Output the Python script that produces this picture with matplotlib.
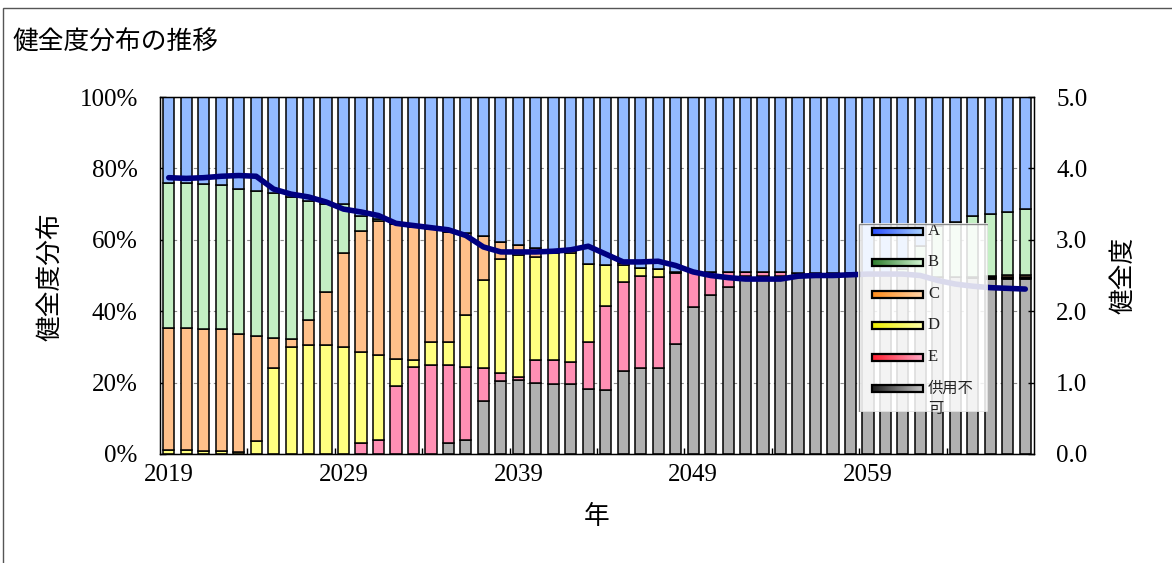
import matplotlib
matplotlib.use("Agg")
import matplotlib.pyplot as plt
import numpy as np
from matplotlib.patches import Rectangle
from matplotlib.ticker import PercentFormatter, FormatStrFormatter, FixedLocator
from matplotlib.colors import LinearSegmentedColormap

W, H = 1172, 563
SERIF = ['Liberation Serif', 'DejaVu Serif']
JP = ['Noto Sans CJK JP', 'DejaVu Sans']

# data (percent of stock by grade, per year)
years = list(range(2019, 2069))
unusable = [0, 0, 0, 0, 0, 0, 0, 0, 0, 0,
            0, 0, 0, 0, 0, 0, 3.0, 4.0, 14.8, 20.4,
            20.7, 19.8, 19.6, 19.6, 18.2, 18.0, 23.2, 24.1, 24.1, 30.8,
            41.1, 44.4, 46.7, 49.8, 49.8, 49.8, 50.7, 50.7, 50.7, 50.7,
            50.7, 50.5, 50.3, 50.0, 49.5, 49.5, 49.3, 49.1, 49.1, 49.1]
grade_e = [0, 0, 0, 0, 0, 0, 0, 0, 0, 0,
           0, 3.0, 4.0, 19.0, 24.5, 24.8, 21.8, 20.5, 9.2, 2.2,
           1.0, 6.4, 6.8, 6.1, 13.1, 23.4, 24.9, 25.8, 25.4, 19.9,
           9.9, 6.6, 4.4, 1.3, 1.3, 1.3, 0, 0, 0, 0,
           0, 0, 0, 0, 0, 0, 0, 0.3, 0.3, 0.3]
grade_d = [1.0, 1.0, 0.8, 0.8, 0.5, 3.7, 24.1, 29.9, 30.4, 30.4,
           30.1, 25.5, 23.6, 7.6, 1.9, 6.5, 6.5, 14.3, 24.6, 32.1,
           34.1, 29.0, 29.8, 30.5, 21.9, 11.6, 4.9, 2.2, 2.2, 0.4,
           0, 0, 0, 0, 0, 0, 0, 0, 0, 0,
           0, 0, 0, 0, 0, 0, 0, 0.3, 0.3, 0.3]
grade_c = [34.3, 34.4, 34.2, 34.1, 33.1, 29.3, 8.4, 2.3, 7.2, 15.0,
           26.3, 33.9, 37.6, 37.9, 37.2, 31.8, 31.0, 23.2, 12.4, 4.6,
           2.7, 2.5, 0.8, 0.8, 0, 0, 0.6, 0, 0, 0,
           0, 0, 0, 0, 0, 0, 0, 0, 0, 0,
           0, 0, 0, 0, 0, 0, 0.3, 0.3, 0.4, 0.4]
grade_b = [40.6, 40.5, 40.5, 40.4, 40.7, 40.6, 40.6, 39.8, 33.4, 24.5,
           13.7, 4.2, 0.7, 0, 0, 0, 0, 0, 0, 0,
           0, 0, 0, 0, 0, 0, 0, 0, 0, 0,
           0, 0, 0, 0, 0, 0, 0, 0, 0, 0,
           0, 0, 1.5, 8.4, 14.5, 15.6, 17.2, 17.3, 17.7, 18.4]
grade_a = [24.1, 24.1, 24.5, 24.7, 25.7, 26.4, 26.9, 28.0, 29.0, 30.1,
           29.9, 33.4, 34.1, 35.5, 36.4, 36.9, 37.7, 38.0, 39.0, 40.7,
           41.5, 42.3, 43.0, 43.0, 46.8, 47.0, 46.4, 47.9, 48.3, 48.9,
           49.0, 49.0, 48.9, 48.9, 48.9, 48.9, 49.3, 49.3, 49.3, 49.3,
           49.3, 49.5, 48.2, 41.6, 36.0, 34.9, 33.2, 32.7, 32.2, 31.5]
health = [3.87, 3.86, 3.87, 3.89, 3.90, 3.89, 3.71, 3.64, 3.60, 3.53,
          3.43, 3.39, 3.34, 3.23, 3.20, 3.17, 3.14, 3.06, 2.90, 2.83,
          2.83, 2.83, 2.84, 2.86, 2.91, 2.80, 2.69, 2.69, 2.70, 2.64,
          2.55, 2.50, 2.47, 2.45, 2.45, 2.45, 2.49, 2.50, 2.50, 2.51,
          2.52, 2.52, 2.52, 2.50, 2.43, 2.38, 2.35, 2.33, 2.32, 2.31]

labels = ['A', 'B', 'C', 'D', 'E', '供用不可']
bar_colors = ['#93baff', '#c4efc4', '#ffc08a', '#ffff80', '#ff8fb4', '#b0b0b0']
grad = [('#2a50ff', '#a8d0ff'), ('#2e7d2e', '#d2f5d2'), ('#ff8c1a', '#ffd2a6'),
        ('#eeee00', '#ffffa8'), ('#ff1f30', '#ffa6c4'), ('#1e1e1e', '#c4c4c4')]


def fx(px):
    return px / W


def fy(py):
    return 1 - py / H


fig = plt.figure(figsize=(W / 100, H / 100), dpi=100)
fig.patch.set_facecolor('white')

# chart area border
fig.add_artist(Rectangle((fx(3), fy(H + 20)), 2, fy(8) - fy(H + 20),
                         transform=fig.transFigure, fill=False,
                         edgecolor='#555555', lw=1))

ax = fig.add_axes([fx(160), fy(454), fx(1034) - fx(160), fy(97) - fy(454)])
x = np.arange(len(years))
stack = [unusable, grade_e, grade_d, grade_c, grade_b, grade_a]
order_colors = bar_colors[::-1]
bottom = np.zeros(len(years))
for vals, col in zip(stack, order_colors):
    ax.bar(x, vals, bottom=bottom, width=0.64, color=col,
           edgecolor='black', linewidth=1.1, zorder=2)
    bottom = bottom + np.array(vals)

ax.set_xlim(-0.5, len(years) - 0.5)
ax.set_ylim(0, 100)
ax.set_axisbelow(True)
ax.yaxis.grid(True, color='#8c8c8c', linestyle=(0, (3, 3)), linewidth=0.8)
ax.set_yticks([0, 20, 40, 60, 80, 100])
ax.yaxis.set_major_formatter(PercentFormatter(100, decimals=0))
ax.set_xticks(x[::10])
ax.set_xticklabels([str(y) for y in years[::10]])
ax.xaxis.set_minor_locator(FixedLocator(np.arange(4.5, len(years) - 1, 5)))
ax.tick_params(axis='x', which='major', length=0, pad=7, labelsize=18)
ax.tick_params(axis='x', which='minor', direction='in', length=4, width=1)
ax.tick_params(axis='y', direction='in', length=4, width=1, pad=16, labelsize=18)
for lab in ax.get_xticklabels() + ax.get_yticklabels():
    lab.set_fontfamily(SERIF)
for s in ax.spines.values():
    s.set_color('black')
    s.set_linewidth(1)

ax2 = ax.twinx()
ax2.plot(x, health, color='#000080', lw=4, solid_joinstyle='round',
         solid_capstyle='round', zorder=3)
ax2.set_ylim(0, 5)
ax2.set_yticks([0, 1, 2, 3, 4, 5])
ax2.yaxis.set_major_formatter(FormatStrFormatter('%.1f'))
ax2.tick_params(axis='y', direction='in', length=4, width=1, pad=16, labelsize=18)
for lab in ax2.get_yticklabels():
    lab.set_fontfamily(SERIF)

# texts
fig.text(fx(12), fy(43), '健全度分布の推移', family=JP, fontsize=18.5,
         ha='left', va='center')
fig.text(fx(51), fy(277), '健全度分布', family=JP, fontsize=18.5,
         rotation=90, ha='center', va='center')
fig.text(fx(1123), fy(275), '健全度', family=JP, fontsize=18.5,
         rotation=90, ha='center', va='center')
fig.text(fx(597), fy(517), '年', family=JP, fontsize=18.5,
         ha='center', va='center')

# legend, drawn in pixel units
L, T, R, B = 858, 223, 988, 412
lax = fig.add_axes([fx(L), fy(B), fx(R) - fx(L), fy(T) - fy(B)])
lax.set_zorder(5)
lax.set_xlim(0, R - L)
lax.set_ylim(B - T, 0)
lax.axis('off')
lax.add_patch(Rectangle((0, 0), R - L, B - T, facecolor='white', alpha=0.86,
                        edgecolor='none', zorder=0))
lax.add_patch(Rectangle((0.5, 0.5), R - L - 1, B - T - 1, fill=False,
                        edgecolor='#8a8a8a', lw=1, zorder=4))
ramp = np.linspace(0, 1, 64).reshape(1, -1)
ycent = [8, 39, 71, 102, 134, 165]
for lab, (c0, c1), yc in zip(labels, grad, ycent):
    cmap = LinearSegmentedColormap.from_list('g', [c0, c1])
    lax.imshow(ramp, cmap=cmap, aspect='auto', extent=(14, 65, yc + 3.5, yc - 3.5),
               zorder=2)
    lax.add_patch(Rectangle((14, yc - 3.5), 51, 7, fill=False, edgecolor='black',
                            lw=1.6, zorder=3))
    if lab == '供用不可':
        lax.text(70, yc - 8, '供用不\n可', family=JP, fontsize=11, color='#222222',
                 ha='left', va='top', linespacing=1.25, zorder=3)
    else:
        lax.text(70, yc, lab, family=SERIF, fontsize=12, color='#222222',
                 ha='left', va='center', zorder=3)
lax.set_xlim(0, R - L)
lax.set_ylim(B - T, 0)

fig.savefig('out.png', dpi=100)
